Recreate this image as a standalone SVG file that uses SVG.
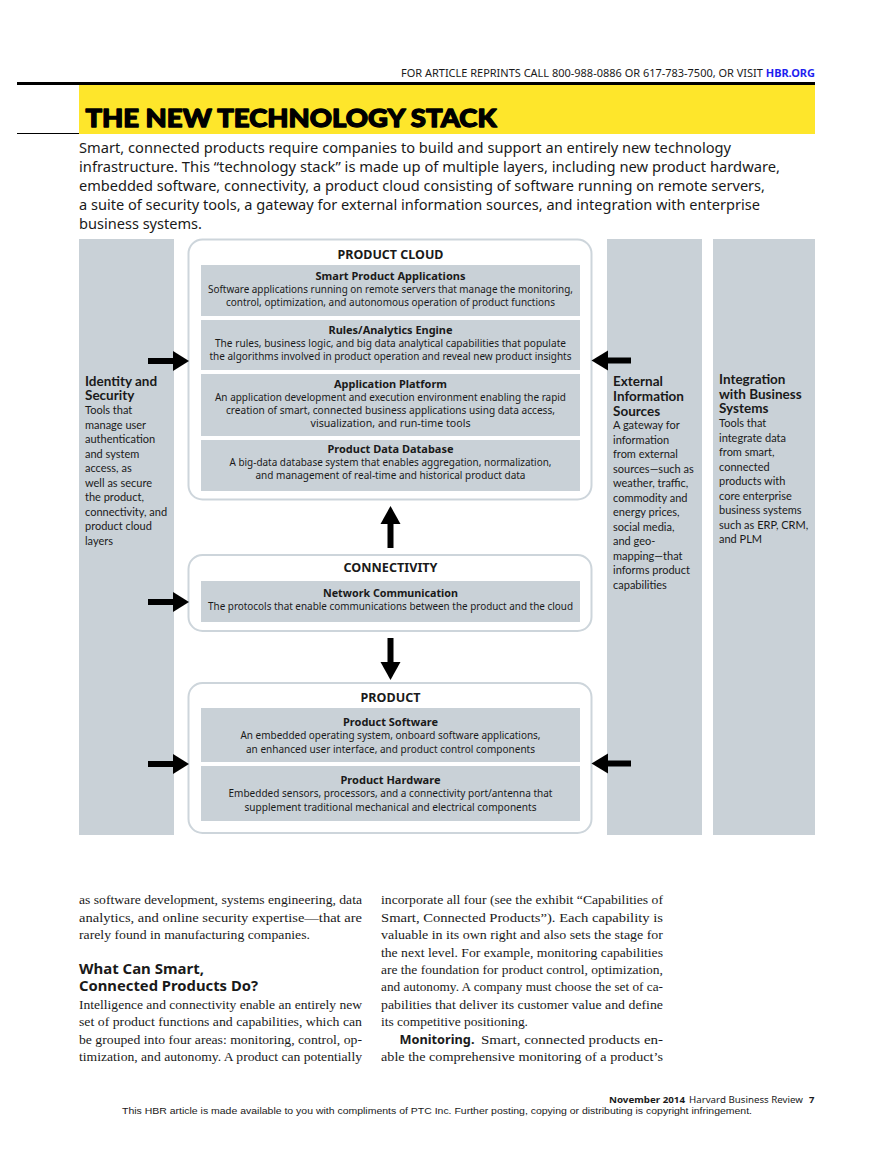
<svg xmlns="http://www.w3.org/2000/svg" width="893" height="1155" viewBox="0 0 893 1155">
<style>
.bg{fill:#ffffff}
.col{fill:#C9D1D7}
.box{fill:#ffffff;stroke:#CDD5DB;stroke-width:2}
.inner{fill:#C9D1D7}
.arr{fill:#000000}
text{fill:#1a1a1a}
.hd{font-family:"Noto Sans",sans-serif;font-weight:700;font-size:12.5px;text-anchor:middle}
.tt{font-family:"Noto Sans",sans-serif;font-weight:700;font-size:11px;text-anchor:middle}
.ds{font-family:"Noto Sans",sans-serif;font-size:10.5px;text-anchor:middle}
.ch{font-family:"Lato","Noto Sans",sans-serif;font-weight:700;font-size:13.5px}
.ct{font-family:"Lato","Noto Sans",sans-serif;font-size:11px}
.intro{font-family:"Noto Sans",sans-serif;font-size:15px}
.body{font-family:"Liberation Serif",serif;font-size:13.5px}
.bh{font-family:"Noto Sans",sans-serif;font-weight:700;font-size:13.5px}
.bb{font-family:"Noto Sans",sans-serif;font-weight:700;font-size:12.5px}
</style>
<rect class="bg" x="0" y="0" width="893" height="1155"/>

<g id="header">
  <text x="401" y="77" font-family="Noto Sans, sans-serif" font-size="10px" textLength="414" lengthAdjust="spacingAndGlyphs">FOR ARTICLE REPRINTS CALL 800-988-0886 OR 617-783-7500, OR VISIT <tspan font-weight="700" style="fill:#1F1FF0">HBR.ORG</tspan></text>
  <rect x="17" y="82" width="798" height="3" fill="#000000"/>
  <rect x="79" y="85" width="736" height="49" fill="#FEE62B"/>
  <rect x="17" y="133" width="62" height="1" fill="#000000"/>
  <text x="85.5" y="127" font-family="Lato, Roboto, sans-serif" font-weight="900" font-size="25px" textLength="411" lengthAdjust="spacingAndGlyphs" stroke="#000000" stroke-width="1.3" stroke-linejoin="round" style="fill:#000">THE NEW TECHNOLOGY STACK</text>
</g>

<g id="intro">
  <text class="intro" x="79" y="153" textLength="652" lengthAdjust="spacingAndGlyphs">Smart, connected products require companies to build and support an entirely new technology</text>
  <text class="intro" x="79" y="172" textLength="701" lengthAdjust="spacingAndGlyphs">infrastructure. This “technology stack” is made up of multiple layers, including new product hardware,</text>
  <text class="intro" x="79" y="191" textLength="686" lengthAdjust="spacingAndGlyphs">embedded software, connectivity, a product cloud consisting of software running on remote servers,</text>
  <text class="intro" x="79" y="210" textLength="681" lengthAdjust="spacingAndGlyphs">a suite of security tools, a gateway for external information sources, and integration with enterprise</text>
  <text class="intro" x="79" y="229" textLength="123" lengthAdjust="spacingAndGlyphs">business systems.</text>
</g>

<g id="identity-security">
  <rect class="col" x="79" y="239" width="95" height="596"/>
  <text class="ch" x="85" y="386">Identity and</text>
  <text class="ch" x="85" y="400">Security</text>
  <text class="ct" x="85" y="414">Tools that</text>
  <text class="ct" x="85" y="428.5">manage user</text>
  <text class="ct" x="85" y="443">authentication</text>
  <text class="ct" x="85" y="457.5">and system</text>
  <text class="ct" x="85" y="472">access, as</text>
  <text class="ct" x="85" y="486.5">well as secure</text>
  <text class="ct" x="85" y="501">the product,</text>
  <text class="ct" x="85" y="515.5">connectivity, and</text>
  <text class="ct" x="85" y="530">product cloud</text>
  <text class="ct" x="85" y="544.5">layers</text>
</g>

<g id="external-sources">
  <rect class="col" x="607" y="239" width="95" height="596"/>
  <text class="ch" x="613" y="386">External</text>
  <text class="ch" x="613" y="401">Information</text>
  <text class="ch" x="613" y="415.5">Sources</text>
  <text class="ct" x="613" y="429">A gateway for</text>
  <text class="ct" x="613" y="443.5">information</text>
  <text class="ct" x="613" y="458">from external</text>
  <text class="ct" x="613" y="472.5">sources—such as</text>
  <text class="ct" x="613" y="487">weather, traffic,</text>
  <text class="ct" x="613" y="501.5">commodity and</text>
  <text class="ct" x="613" y="516">energy prices,</text>
  <text class="ct" x="613" y="530.5">social media,</text>
  <text class="ct" x="613" y="545">and geo-</text>
  <text class="ct" x="613" y="559.5">mapping—that</text>
  <text class="ct" x="613" y="574">informs product</text>
  <text class="ct" x="613" y="588.5">capabilities</text>
</g>

<g id="business-integration">
  <rect class="col" x="713" y="239" width="102" height="596"/>
  <text class="ch" x="719" y="384">Integration</text>
  <text class="ch" x="719" y="398.5">with Business</text>
  <text class="ch" x="719" y="413">Systems</text>
  <text class="ct" x="719" y="427">Tools that</text>
  <text class="ct" x="719" y="441.5">integrate data</text>
  <text class="ct" x="719" y="456">from smart,</text>
  <text class="ct" x="719" y="470.5">connected</text>
  <text class="ct" x="719" y="485">products with</text>
  <text class="ct" x="719" y="499.5">core enterprise</text>
  <text class="ct" x="719" y="514">business systems</text>
  <text class="ct" x="719" y="528.5">such as ERP, CRM,</text>
  <text class="ct" x="719" y="543">and PLM</text>
</g>

<g id="product-cloud">
  <rect class="box" x="188.5" y="239.5" width="403" height="260" rx="14"/>
  <text class="hd" x="390.5" y="258.5" textLength="106" lengthAdjust="spacingAndGlyphs">PRODUCT CLOUD</text>
  <rect class="inner" x="201" y="265" width="379" height="51"/>
  <text class="tt" x="390.5" y="280" textLength="150" lengthAdjust="spacingAndGlyphs">Smart Product Applications</text>
  <text class="ds" x="390.5" y="293" textLength="365" lengthAdjust="spacingAndGlyphs">Software applications running on remote servers that manage the monitoring,</text>
  <text class="ds" x="390.5" y="306" textLength="329" lengthAdjust="spacingAndGlyphs">control, optimization, and autonomous operation of product functions</text>
  <rect class="inner" x="201" y="320" width="379" height="50"/>
  <text class="tt" x="390.5" y="333.5" textLength="124" lengthAdjust="spacingAndGlyphs">Rules/Analytics Engine</text>
  <text class="ds" x="390.5" y="346.5" textLength="351" lengthAdjust="spacingAndGlyphs">The rules, business logic, and big data analytical capabilities that populate</text>
  <text class="ds" x="390.5" y="359.5" textLength="362" lengthAdjust="spacingAndGlyphs">the algorithms involved in product operation and reveal new product insights</text>
  <rect class="inner" x="201" y="374" width="379" height="62"/>
  <text class="tt" x="390.5" y="387.5" textLength="113" lengthAdjust="spacingAndGlyphs">Application Platform</text>
  <text class="ds" x="390.5" y="400.5" textLength="351" lengthAdjust="spacingAndGlyphs">An application development and execution environment enabling the rapid</text>
  <text class="ds" x="390.5" y="413.5" textLength="329" lengthAdjust="spacingAndGlyphs">creation of smart, connected business applications using data access,</text>
  <text class="ds" x="390.5" y="426.5" textLength="160" lengthAdjust="spacingAndGlyphs">visualization, and run-time tools</text>
  <rect class="inner" x="201" y="440" width="379" height="51"/>
  <text class="tt" x="390.5" y="452.5" textLength="126" lengthAdjust="spacingAndGlyphs">Product Data Database</text>
  <text class="ds" x="390.5" y="465.5" textLength="322" lengthAdjust="spacingAndGlyphs">A big-data database system that enables aggregation, normalization,</text>
  <text class="ds" x="390.5" y="479" textLength="270" lengthAdjust="spacingAndGlyphs">and management of real-time and historical product data</text>
</g>

<g id="connectivity">
  <rect class="box" x="188.5" y="555" width="403" height="76" rx="14"/>
  <text class="hd" x="390.5" y="572" textLength="94" lengthAdjust="spacingAndGlyphs">CONNECTIVITY</text>
  <rect class="inner" x="201" y="581" width="379" height="41"/>
  <text class="tt" x="390.5" y="596.5" textLength="135" lengthAdjust="spacingAndGlyphs">Network Communication</text>
  <text class="ds" x="390.5" y="610" textLength="365" lengthAdjust="spacingAndGlyphs">The protocols that enable communications between the product and the cloud</text>
</g>

<g id="product">
  <rect class="box" x="188.5" y="683" width="403" height="150" rx="14"/>
  <text class="hd" x="390.5" y="702" textLength="60" lengthAdjust="spacingAndGlyphs">PRODUCT</text>
  <rect class="inner" x="201" y="708" width="379" height="54"/>
  <text class="tt" x="390.5" y="725.5" textLength="95" lengthAdjust="spacingAndGlyphs">Product Software</text>
  <text class="ds" x="390.5" y="739" textLength="300" lengthAdjust="spacingAndGlyphs">An embedded operating system, onboard software applications,</text>
  <text class="ds" x="390.5" y="752.5" textLength="289" lengthAdjust="spacingAndGlyphs">an enhanced user interface, and product control components</text>
  <rect class="inner" x="201" y="766" width="379" height="55"/>
  <text class="tt" x="390.5" y="784" textLength="100" lengthAdjust="spacingAndGlyphs">Product Hardware</text>
  <text class="ds" x="390.5" y="797" textLength="324" lengthAdjust="spacingAndGlyphs">Embedded sensors, processors, and a connectivity port/antenna that</text>
  <text class="ds" x="390.5" y="810.5" textLength="292" lengthAdjust="spacingAndGlyphs">supplement traditional mechanical and electrical components</text>
</g>

<g id="connectors">
  <rect class="arr" x="148" y="358" width="26" height="6"/>
  <polygon class="arr" points="173,351 189,361 173,371"/>
  <rect class="arr" x="148" y="599" width="26" height="6"/>
  <polygon class="arr" points="173,592 189,602 173,612"/>
  <rect class="arr" x="148" y="761" width="26" height="6"/>
  <polygon class="arr" points="173,754 189,764 173,774"/>
  <rect class="arr" x="607" y="357.5" width="24" height="6"/>
  <polygon class="arr" points="608,350.5 591.5,360.5 608,370.5"/>
  <rect class="arr" x="607" y="760.5" width="24" height="6"/>
  <polygon class="arr" points="608,753.5 591.5,763.5 608,773.5"/>
  <rect class="arr" x="387.5" y="523" width="6" height="25"/>
  <polygon class="arr" points="380.5,524 390.5,506 400.5,524"/>
  <rect class="arr" x="387.5" y="638" width="6" height="25"/>
  <polygon class="arr" points="380.5,662 400.5,662 390.5,680"/>
</g>

<g id="article">
  <text class="body" x="79" y="904" textLength="283" lengthAdjust="spacingAndGlyphs">as software development, systems engineering, data</text>
  <text class="body" x="79" y="921.5" textLength="283" lengthAdjust="spacingAndGlyphs">analytics, and online security expertise—that are</text>
  <text class="body" x="79" y="939" textLength="231" lengthAdjust="spacingAndGlyphs">rarely found in manufacturing companies.</text>
  <text class="bh" x="79" y="973.5" textLength="125" lengthAdjust="spacingAndGlyphs">What Can Smart,</text>
  <text class="bh" x="79" y="991" textLength="179" lengthAdjust="spacingAndGlyphs">Connected Products Do?</text>
  <text class="body" x="79" y="1008.5" textLength="283" lengthAdjust="spacingAndGlyphs">Intelligence and connectivity enable an entirely new</text>
  <text class="body" x="79" y="1026" textLength="283" lengthAdjust="spacingAndGlyphs">set of product functions and capabilities, which can</text>
  <text class="body" x="79" y="1043.5" textLength="283" lengthAdjust="spacingAndGlyphs">be grouped into four areas: monitoring, control, op-</text>
  <text class="body" x="79" y="1061" textLength="283" lengthAdjust="spacingAndGlyphs">timization, and autonomy. A product can potentially</text>

  <text class="body" x="381" y="904" textLength="282" lengthAdjust="spacingAndGlyphs">incorporate all four (see the exhibit “Capabilities of</text>
  <text class="body" x="381" y="921.5" textLength="282" lengthAdjust="spacingAndGlyphs">Smart, Connected Products”). Each capability is</text>
  <text class="body" x="381" y="939" textLength="282" lengthAdjust="spacingAndGlyphs">valuable in its own right and also sets the stage for</text>
  <text class="body" x="381" y="956.5" textLength="282" lengthAdjust="spacingAndGlyphs">the next level. For example, monitoring capabilities</text>
  <text class="body" x="381" y="973.5" textLength="282" lengthAdjust="spacingAndGlyphs">are the foundation for product control, optimization,</text>
  <text class="body" x="381" y="991" textLength="282" lengthAdjust="spacingAndGlyphs">and autonomy. A company must choose the set of ca-</text>
  <text class="body" x="381" y="1008.5" textLength="282" lengthAdjust="spacingAndGlyphs">pabilities that deliver its customer value and define</text>
  <text class="body" x="381" y="1026" textLength="147" lengthAdjust="spacingAndGlyphs">its competitive positioning.</text>
  <text class="bb" x="399.5" y="1043.5" textLength="75" lengthAdjust="spacingAndGlyphs">Monitoring.</text>
  <text class="body" x="481" y="1043.5" textLength="182" lengthAdjust="spacingAndGlyphs">Smart, connected products en-</text>
  <text class="body" x="381" y="1061" textLength="282" lengthAdjust="spacingAndGlyphs">able the comprehensive monitoring of a product’s</text>
</g>

<g id="footer">
  <text x="609" y="1103" font-family="Noto Sans, sans-serif" font-weight="700" font-size="9.5px" textLength="76" lengthAdjust="spacingAndGlyphs">November 2014</text>
  <text x="689" y="1103" font-family="Noto Sans, sans-serif" font-size="9.5px" textLength="114" lengthAdjust="spacingAndGlyphs">Harvard Business Review</text>
  <text x="809" y="1103" font-family="Noto Sans, sans-serif" font-weight="700" font-size="9.5px">7</text>
  <text x="122" y="1114" font-family="Liberation Sans, Arial, sans-serif" font-size="9px" textLength="630" lengthAdjust="spacingAndGlyphs">This HBR article is made available to you with compliments of PTC Inc. Further posting, copying or distributing is copyright infringement.</text>
</g>
</svg>
